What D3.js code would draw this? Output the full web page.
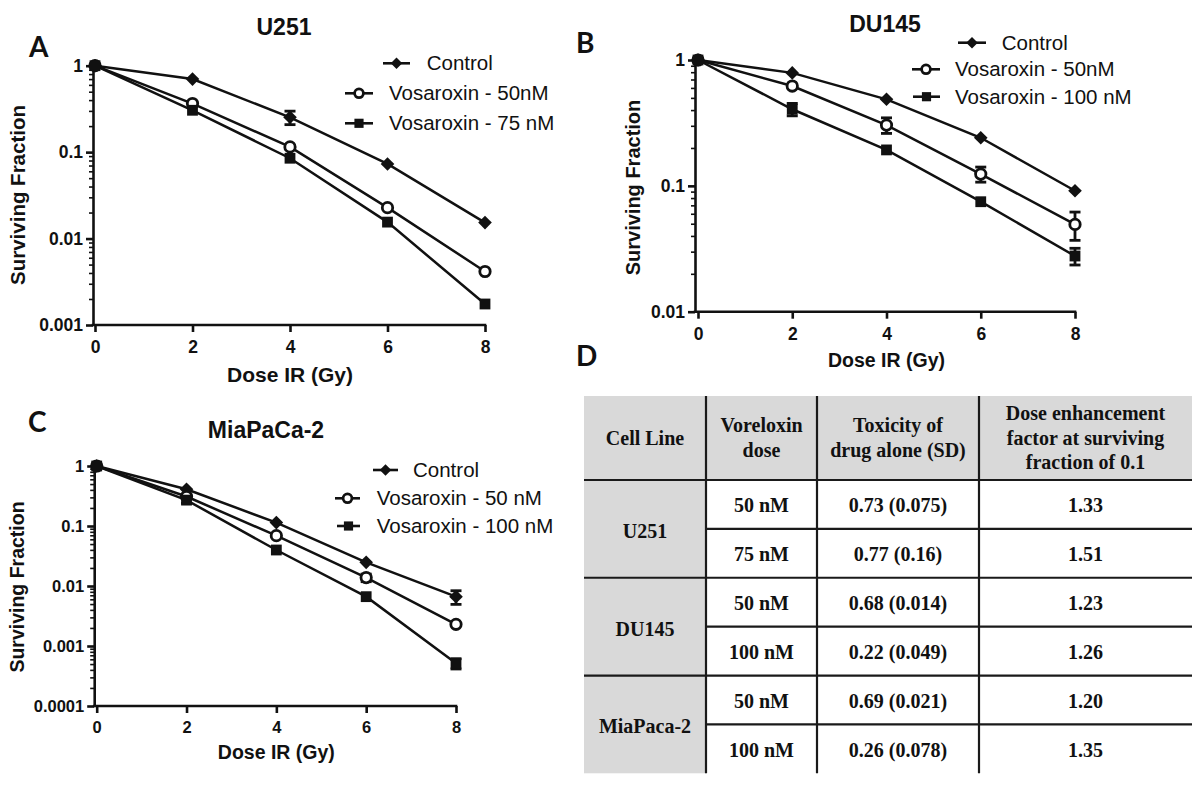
<!DOCTYPE html>
<html><head><meta charset="utf-8">
<script src="https://cdn.jsdelivr.net/npm/d3@7"></script>
<style>body{margin:0;background:#fff} svg{display:block}</style>
</head><body><svg id="c" width="1200" height="794"></svg>
<script>
// ---------------- DATA ----------------
const doses = [0, 2, 4, 6, 8];
const doseTickLabels = ["0", "2", "4", "6", "8"];

// Panel A - U251
const u251Names = ["Control", "Vosaroxin - 50nM", "Vosaroxin - 75 nM"];
const u251Control = [1, 0.70, 0.253, 0.073, 0.0153];
const u251ControlSD = [0, 0, 0.045, 0, 0];
const u251V50 = [1, 0.365, 0.115, 0.0228, 0.00416];
const u251V50SD = [0, 0, 0, 0, 0];
const u251V75 = [1, 0.305, 0.085, 0.0155, 0.00175];
const u251V75SD = [0, 0, 0, 0, 0];
const u251YTicks = [1, 0.1, 0.01, 0.001];
const u251YLabels = ["1", "0.1", "0.01", "0.001"];

// Panel B - DU145
const du145Names = ["Control", "Vosaroxin - 50nM", "Vosaroxin - 100 nM"];
const du145Control = [1, 0.79, 0.487, 0.241, 0.0914];
const du145ControlSD = [0, 0, 0, 0, 0];
const du145V50 = [1, 0.621, 0.304, 0.124, 0.0494];
const du145V50SD = [0, 0, 0.043, 0.017, 0.0125];
const du145V100 = [1, 0.406, 0.193, 0.0748, 0.0277];
const du145V100SD = [0, 0.046, 0, 0, 0.0042];
const du145YTicks = [1, 0.1, 0.01];
const du145YLabels = ["1", "0.1", "0.01"];

// Panel C - MiaPaCa-2
const miaNames = ["Control", "Vosaroxin - 50 nM", "Vosaroxin - 100 nM"];
const miaControl = [1, 0.409, 0.114, 0.0248, 0.00664];
const miaControlSD = [0, 0, 0, 0, 0.0017];
const miaV50 = [1, 0.31, 0.069, 0.0138, 0.0023];
const miaV50SD = [0, 0, 0, 0.002, 0];
const miaV100 = [1, 0.27, 0.0398, 0.00664, 0.000514];
const miaV100SD = [0, 0.03, 0, 0, 0.0001];
const miaYTicks = [1, 0.1, 0.01, 0.001, 0.0001];
const miaYLabels = ["1", "0.1", "0.01", "0.001", "0.0001"];

const markerTypes = ["diamond", "circle", "square"];

// Panel D - table
const tableHeaders = [["Cell Line"], ["Voreloxin", "dose"], ["Toxicity of", "drug alone (SD)"], ["Dose enhancement", "factor at surviving", "fraction of 0.1"]];
const tableCellLines = ["U251", "DU145", "MiaPaca-2"];
const tableDoses = ["50 nM", "75 nM", "50 nM", "100 nM", "50 nM", "100 nM"];
const tableToxicity = ["0.73 (0.075)", "0.77 (0.16)", "0.68 (0.014)", "0.22 (0.049)", "0.69 (0.021)", "0.26 (0.078)"];
const tableDEF = ["1.33", "1.51", "1.23", "1.26", "1.20", "1.35"];

// ---------------- DRAW ----------------
const svg = d3.select("#c");
svg.append("rect").attr("width", 1200).attr("height", 794).attr("fill", "#fff");
const SANS = "'Liberation Sans', Arial, Helvetica, sans-serif";
const INK = "#111";

function markerPath(type, s) {
  if (type === "diamond") { const r = 6.8 * s; return `M0,${-r}L${r},0L0,${r}L${-r},0Z`; }
  if (type === "square") { const h = 5.4 * s; return `M${-h},${-h}H${h}V${h}H${-h}Z`; }
  return d3.symbol().type(d3.symbolCircle).size(Math.PI * (5.2 * s) ** 2)();
}
function drawMarker(g, type, x, y, s) {
  const p = g.append("path").attr("d", markerPath(type, s)).attr("transform", `translate(${x},${y})`);
  if (type === "circle") p.attr("fill", "#fff").attr("stroke", INK).attr("stroke-width", 2.8);
  else p.attr("fill", INK);
}

function panel(cfg) {
  const g = svg.append("g");
  const x = d3.scaleLinear().domain([0, 8]).range([cfg.x0, cfg.x8]);
  const axisX = cfg.x0 - cfg.gap;
  const y = d3.scaleLog().domain([cfg.yMin, 1]).range([cfg.yBottom, cfg.yTop]);

  // minor ticks (separate group)
  const minor = [];
  for (let d = cfg.yMin; d < 0.99; d *= 10) for (let k = 2; k <= 9; k++) minor.push(k * d);
  const gm = g.append("g").attr("transform", `translate(${axisX},0)`);
  gm.call(d3.axisLeft(y).tickValues(minor).tickSize(4).tickFormat(""));
  gm.select(".domain").remove();
  gm.selectAll("line").attr("stroke", INK).attr("stroke-width", 1.6);

  const ga = g.append("g").attr("transform", `translate(${axisX},0)`);
  ga.call(d3.axisLeft(y).tickValues(cfg.yTicks).tickSize(7).tickSizeOuter(0).tickPadding(3)
      .tickFormat((d, i) => cfg.yLabels[i]));
  ga.selectAll("text").attr("font-family", SANS).attr("font-weight", "bold")
      .attr("font-size", cfg.tickFont).attr("fill", INK);
  ga.selectAll("line,path").attr("stroke", INK).attr("stroke-width", 2.6);

  const gx = g.append("g").attr("transform", `translate(0,${cfg.yBottom})`);
  gx.call(d3.axisBottom(x).tickValues(doses).tickSize(7).tickPadding(cfg.xPad)
      .tickFormat((d, i) => doseTickLabels[i]).tickSizeOuter(0));
  gx.select(".domain").remove();
  gx.append("line").attr("x1", axisX - 1.3).attr("x2", cfg.x8 + 1.3).attr("stroke", INK).attr("stroke-width", 2.6);
  gx.selectAll("line").attr("stroke", INK).attr("stroke-width", 2.6);
  gx.selectAll("text").attr("font-family", SANS).attr("font-weight", "bold")
      .attr("font-size", cfg.tickFont).attr("fill", INK);

  // axis titles
  g.append("text").attr("x", (cfg.x0 + cfg.x8) / 2).attr("y", cfg.xTitleY).attr("dy", "0.35em")
    .attr("text-anchor", "middle").attr("font-family", SANS).attr("font-weight", "bold")
    .attr("font-size", cfg.titleFont).attr("fill", INK).text("Dose IR (Gy)");
  g.append("text").attr("transform", `translate(${cfg.yTitleX},${cfg.yTitleY}) rotate(-90)`)
    .attr("dy", "0.35em").attr("text-anchor", "middle").attr("font-family", SANS)
    .attr("font-weight", "bold").attr("font-size", cfg.yTitleFont).attr("fill", INK).text("Surviving Fraction");
  // chart title
  g.append("text").attr("x", cfg.titleX).attr("y", cfg.titleY).attr("dy", "0.36em")
    .attr("text-anchor", "middle").attr("font-family", SANS).attr("font-weight", "bold")
    .attr("font-size", 23).attr("fill", INK).text(cfg.title);
  // panel letter
  g.append("text").attr("x", cfg.letterX).attr("y", cfg.letterY).attr("font-family", "Lato, 'Open Sans', sans-serif")
    .attr("font-weight", "bold").attr("font-size", 28).attr("fill", INK).text(cfg.letter);

  // series
  const line = d3.line().x((d, i) => x(doses[i])).y(d => y(d));
  cfg.series.forEach(s => {
    g.append("path").attr("d", line(s.values)).attr("fill", "none").attr("stroke", INK).attr("stroke-width", 2.5);
  });
  cfg.series.forEach(s => {
    s.values.forEach((v, i) => {
      const sd = s.sd[i];
      if (sd > 0) {
        const cx = x(doses[i]), y1 = y(v + sd), y2 = y(Math.max(v - sd, cfg.yMin));
        g.append("line").attr("x1", cx).attr("x2", cx).attr("y1", y1).attr("y2", y2).attr("stroke", INK).attr("stroke-width", 2.8);
        [y1, y2].forEach(yy => g.append("line").attr("x1", cx - 5.5).attr("x2", cx + 5.5).attr("y1", yy).attr("y2", yy)
          .attr("stroke", INK).attr("stroke-width", 2.8));
      }
    });
  });
  cfg.series.forEach(s => {
    s.values.forEach((v, i) => drawMarker(g, s.marker, x(doses[i]), y(v), 1));
  });

  // legend
  cfg.series.forEach((s, i) => {
    const L = cfg.legend[i];
    g.append("line").attr("x1", L.l1).attr("x2", L.l2).attr("y1", L.y).attr("y2", L.y).attr("stroke", INK).attr("stroke-width", 2.6);
    drawMarker(g, s.marker, (L.l1 + L.l2) / 2, L.y, 0.85);
    g.append("text").attr("x", L.tx).attr("y", L.y).attr("dy", "0.35em").attr("font-family", SANS)
      .attr("font-size", 20.5).attr("fill", INK).text(s.name);
  });
}

function mkSeries(names, vals, sds) {
  return names.map((n, i) => ({ name: n, values: vals[i], sd: sds[i], marker: markerTypes[i] }));
}

panel({
  title: "U251", titleX: 284, titleY: 27, letter: "A", letterX: 29, letterY: 57,
  x0: 95, x8: 485, gap: 2, yMin: 0.001, yTop: 65.7, yBottom: 325,
  yTicks: u251YTicks, yLabels: u251YLabels, tickFont: 17.5, xPad: 9,
  xTitleY: 375, titleFont: 21, yTitleX: 18, yTitleY: 195, yTitleFont: 20.5,
  series: mkSeries(u251Names, [u251Control, u251V50, u251V75], [u251ControlSD, u251V50SD, u251V75SD]),
  legend: [{ l1: 383, l2: 410, y: 63.3, tx: 426.7 }, { l1: 345, l2: 373, y: 93.3, tx: 389 }, { l1: 345, l2: 373, y: 123.3, tx: 389 }]
});
panel({
  title: "DU145", titleX: 885, titleY: 23.3, letter: "B", letterX: 576, letterY: 53,
  x0: 698, x8: 1075, gap: 3, yMin: 0.01, yTop: 60, yBottom: 311.7,
  yTicks: du145YTicks, yLabels: du145YLabels, tickFont: 17.5, xPad: 8.5,
  xTitleY: 360, titleFont: 19.5, yTitleX: 633, yTitleY: 187.5, yTitleFont: 20,
  series: mkSeries(du145Names, [du145Control, du145V50, du145V100], [du145ControlSD, du145V50SD, du145V100SD]),
  legend: [{ l1: 958, l2: 986, y: 42.7, tx: 1001.7 }, { l1: 912, l2: 940, y: 69.3, tx: 955 }, { l1: 913, l2: 940, y: 96.7, tx: 955 }]
});
panel({
  title: "MiaPaCa-2", titleX: 266, titleY: 430, letter: "C", letterX: 28, letterY: 432,
  x0: 96.7, x8: 456, gap: 2.5, yMin: 0.0001, yTop: 466, yBottom: 706,
  yTicks: miaYTicks, yLabels: miaYLabels, tickFont: 16.5, xPad: 8,
  xTitleY: 751.7, titleFont: 19.5, yTitleX: 17, yTitleY: 587, yTitleFont: 19.5,
  series: mkSeries(miaNames, [miaControl, miaV50, miaV100], [miaControlSD, miaV50SD, miaV100SD]),
  legend: [{ l1: 373, l2: 398, y: 470, tx: 413 }, { l1: 335, l2: 360, y: 498.3, tx: 376.7 }, { l1: 337, l2: 360, y: 526, tx: 376.7 }]
});

// ---------------- TABLE (D) ----------------
svg.append("text").attr("x", 576).attr("y", 366).attr("font-family", "Lato, 'Open Sans', sans-serif")
  .attr("font-weight", "bold").attr("font-size", 28).attr("fill", INK).text("D");

const colX = [584, 706, 817, 979, 1192];
const headTop = 396, headBot = 480, tableBot = 773.3;
const rowY = d3.scaleLinear().domain([0, tableDoses.length]).range([headBot, tableBot]);
const SERIF = "'Liberation Serif', 'Times New Roman', serif";
const GRAY = "#d9d9d9";
const tg = svg.append("g");
tg.append("rect").attr("x", colX[0]).attr("y", headTop).attr("width", colX[4] - colX[0]).attr("height", headBot - headTop).attr("fill", GRAY);
tg.append("rect").attr("x", colX[0]).attr("y", headBot).attr("width", colX[1] - colX[0]).attr("height", tableBot - headBot).attr("fill", GRAY);

// header texts
tableHeaders.forEach((lines, c) => {
  const cx = (colX[c] + colX[c + 1]) / 2, cy = (headTop + headBot) / 2 - 0.5, lh = 24.5;
  lines.forEach((t, k) => {
    tg.append("text").attr("x", cx).attr("y", cy + (k - (lines.length - 1) / 2) * lh).attr("dy", "0.35em")
      .attr("text-anchor", "middle").attr("font-family", SERIF).attr("font-weight", "bold")
      .attr("font-size", 20).attr("fill", INK).text(t);
  });
});
// cell-line texts
tableCellLines.forEach((t, i) => {
  tg.append("text").attr("x", (colX[0] + colX[1]) / 2).attr("y", rowY(2 * i + 1) + 2).attr("dy", "0.35em")
    .attr("text-anchor", "middle").attr("font-family", SERIF).attr("font-weight", "bold")
    .attr("font-size", 20).attr("fill", INK).text(t);
});
[tableDoses, tableToxicity, tableDEF].forEach((col, c) => {
  col.forEach((t, r) => {
    tg.append("text").attr("x", (colX[c + 1] + colX[c + 2]) / 2).attr("y", rowY(r + 0.5) + 1).attr("dy", "0.35em")
      .attr("text-anchor", "middle").attr("font-family", SERIF).attr("font-weight", "bold")
      .attr("font-size", 20).attr("fill", INK).text(t);
  });
});
// grid lines
const LC = "#1a1a1a";
[1, 2, 3].forEach(c => tg.append("line").attr("x1", colX[c]).attr("x2", colX[c]).attr("y1", headTop).attr("y2", tableBot)
  .attr("stroke", LC).attr("stroke-width", 2.2));
d3.range(0, tableDoses.length).forEach(r => {
  const yy = rowY(r);
  const full = r % 2 === 0;
  tg.append("line").attr("x1", full ? colX[0] : colX[1]).attr("x2", colX[4]).attr("y1", yy).attr("y2", yy)
    .attr("stroke", LC).attr("stroke-width", 2.2);
});
</script></body></html>
